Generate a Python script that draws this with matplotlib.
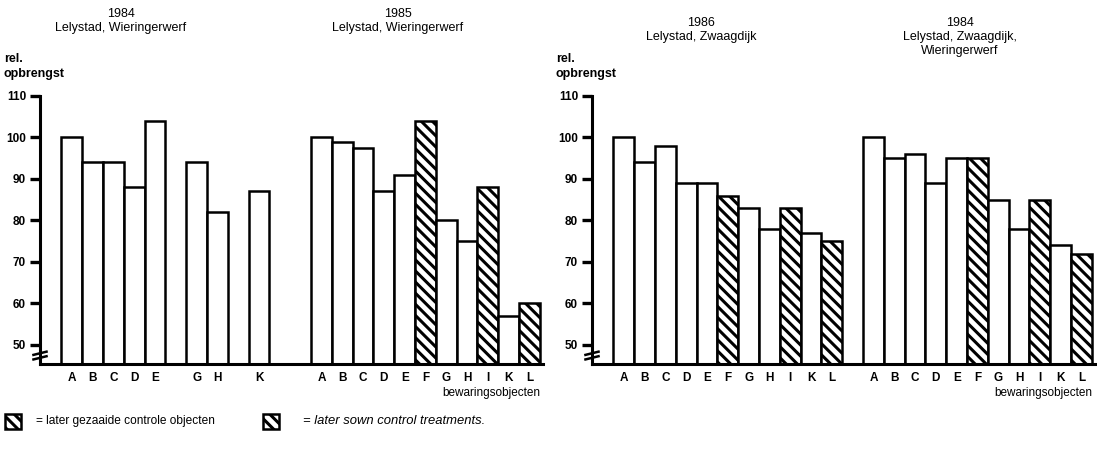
import matplotlib
matplotlib.use("Agg")
import matplotlib.pyplot as plt
from matplotlib.patches import Rectangle

plt.rcParams['font.family'] = ['Liberation Sans', 'DejaVu Sans']
plt.rcParams['hatch.linewidth'] = 2.2

letters = ['A', 'B', 'C', 'D', 'E', 'F', 'G', 'H', 'I', 'K', 'L']
late_sown = ['F', 'I', 'L']

# relative yield per storage treatment (None = not present)
y1984_ww = [100, 94, 94, 88, 104, None, 94, 82, None, 87, None]
y1985_ww = [100, 98.8, 97.5, 87, 91, 104, 80, 75, 88, 57, 60]
y1986_zd = [100, 94, 98, 89, 89, 86, 83, 78, 83, 77, 75]
y1984_zdww = [100, 95, 96, 89, 95, 95, 85, 78, 85, 74, 72]

titles_left = ["1984\nLelystad, Wieringerwerf", "1985\nLelystad, Wieringerwerf"]
titles_right = ["1986\nLelystad, Zwaagdijk", "1984\nLelystad, Zwaagdijk,\nWieringerwerf"]

yticks = [50, 60, 70, 80, 90, 100, 110]
ybottom = 45.4

W, H = 1097, 455
fig = plt.figure(figsize=(W / 100, H / 100), dpi=100)

def fx(px):
    return px / W

def fy(py):
    return 1 - py / H

FS = 8.5
TFS = 9

def draw_panel(ax_left_px, groups, titles, title_centers_px, title_top_px):
    ax = fig.add_axes([fx(ax_left_px), fy(364), fx(503), (364 - 96) / H])
    ax.set_xlim(-1.53, 22.65)
    ax.set_ylim(ybottom, 110)
    tick_pos, tick_lab = [], []
    for g, vals in enumerate(groups):
        for i, (let, v) in enumerate(zip(letters, vals)):
            if v is None:
                continue
            x = g * 12 + i
            hatched = let in late_sown
            ax.bar(x, v - ybottom, bottom=ybottom, width=1.0,
                   facecolor='white', edgecolor='black', linewidth=1.8,
                   hatch='\\\\\\' if hatched else None, zorder=2)
            tick_pos.append(x)
            tick_lab.append(let)
    ax.set_xticks(tick_pos)
    ax.set_xticklabels(tick_lab, fontsize=FS, fontweight='bold')
    ax.tick_params(axis='x', length=0, pad=6)
    ax.set_yticks(yticks)
    ax.set_yticklabels([str(t) for t in yticks], fontsize=FS, fontweight='bold')
    ax.tick_params(axis='y', direction='out', length=7, width=2.4, pad=3)
    for s in ['top', 'right']:
        ax.spines[s].set_visible(False)
    ax.spines['left'].set_linewidth(2.2)
    ax.spines['bottom'].set_linewidth(2.2)
    ax.text(0.995, -0.085, "bewaringsobjecten", transform=ax.transAxes,
            ha='right', va='top', fontsize=FS)
    # axis break mark
    for dy in (0.023, 0.040):
        ax.plot([-0.013, 0.013], [dy - 0.006, dy + 0.006], transform=ax.transAxes,
                color='black', lw=1.8, clip_on=False, zorder=5)
    # y label
    fig.text(fx(ax_left_px - 36), fy(53), "rel.\nopbrengst", ha='left', va='top',
             fontsize=TFS, fontweight='bold', linespacing=1.3)
    for t, c, top in zip(titles, title_centers_px, title_top_px):
        fig.text(fx(c), fy(top), t, ha='center', va='top', fontsize=TFS,
                 linespacing=1.2)
    return ax

draw_panel(40, [y1984_ww, y1985_ww], titles_left, [121, 398], [8, 8])
draw_panel(592, [y1986_zd, y1984_zdww], titles_right, [701, 960], [17, 17])

# legend
for lx, toff, txt, style, size in [(5, 31, "= later gezaaide controle objecten", 'normal', 8.6),
                                   (263, 40, "= later sown control treatments.", 'italic', 9.4)]:
    r = Rectangle((fx(lx), fy(429)), fx(16), 15 / H, transform=fig.transFigure,
                  facecolor='white', edgecolor='black', linewidth=1.8, hatch='\\\\\\')
    fig.add_artist(r)
    fig.text(fx(lx + toff), fy(421), txt, ha='left', va='center', fontsize=size,
             style=style)

fig.savefig("out.png", dpi=100)
